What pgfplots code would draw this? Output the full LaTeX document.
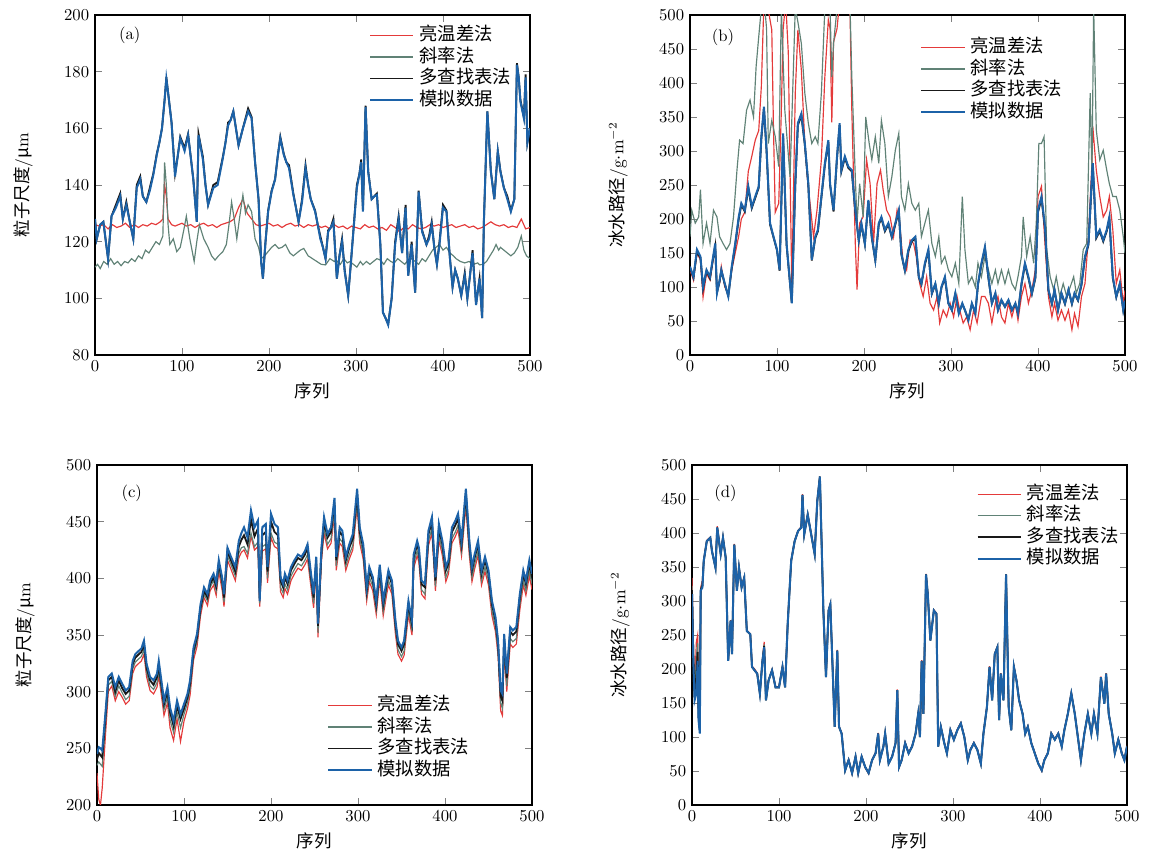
\documentclass[border=0pt]{standalone}
\usepackage{fontspec}
\usepackage{pgfplots}
\pgfplotsset{compat=1.18}
\usepackage{pgfplotstable}
\newfontfamily\cjk{Noto Sans CJK SC}
\definecolor{cR}{RGB}{228,58,58}
\definecolor{cG}{RGB}{96,130,118}
\definecolor{cK}{RGB}{25,25,25}
\definecolor{cB}{RGB}{28,98,168}

\pgfplotsset{legend image code/.code={\draw[#1] (0pt,0pt) -- (26pt,0pt);}}
\pgfplotsset{
  myax/.style={scale only axis, width=261pt, height=204pt,
    xmin=0, xmax=500, xtick={0,100,...,500},
    tick label style={font=\fontsize{9.6}{11}\selectfont},
    label style={font=\fontsize{10.5}{12}\selectfont},
    ylabel style={yshift=12pt},
    xlabel={\cjk 序列},
    major tick length=4pt,
    axis line style={line width=0.7pt},
    legend style={draw=none, fill=none, font=\cjk\fontsize{11}{13}\selectfont,
      cells={anchor=west}, column sep=3pt, row sep=0pt,
      nodes={inner sep=0pt, text height=9.5pt, text depth=3.4pt}},
    legend cell align=left,
  },
  pr/.style={cR, line width=0.7pt},
  pg/.style={cG, line width=0.7pt},
  pk/.style={cK, line width=1.1pt},
  pb/.style={cB, line width=1.2pt},
}

\pgfplotstableread{
x b k
0 128 128
2 121 121
6 126 126
9.6 127 127
15 114 114
19 129 129
24 132 133
29 136 137
32 128 128
36 133 134
40 127 127
44 121 121
48 139 140
52 142 143
55 136 136
59 134 134
63 138 139
67 143.5 144
71 150.6 151
74 155 155
77 160 160
80 170 170
82 177.6 178
85 170 170
88 162 162
92 143 144
95 150 150
98 156.5 157
103 152 153
107 157.6 158
110 150 150
113 142 142
117 127 127
119 157.6 158
124 149 150
127 140 140
130 133 133
136 139 140
141 140 141
147 149.5 150
150 155 155
153 161 162
156 163 163
159 166 166
162 160 160
165 154 154
170 160 160
176 166 167
180 163.5 164
184 148 148
188 135 135
191 113 113
193 107 107
196 120 120
199 130.6 131
203 137.6 138
207 142 142
210 150 150
213 156.5 157
217 150.6 151
220 148 148
223 146 147
228 136.5 137
231 132 132
234 127 127
238 134 135
242 146 147
245 140 140
248 135 135
253 130.6 131
256 126 126
259 121 122
262 118 118
265 114 114
268 123.5 124
271 125 125
274 127 128
278 107 107
281 115 115
284 120 121
287 109.4 110
291 101 101
294 112 112
297 123.5 124
301 139 140
304 144 144
306 148 149
308 130.6 131
311 167.6 168
314 144.7 145
318 135 135
321 136 136
324 136.5 137
328 119 119
331 95 95
334 93 93
337 90.6 91
341 100 100
345 119 120
349 128 129
353 116 116
357 132 133
360 108 108
364 119 120
368 102 102
372 137.6 138
376 123.5 124
381 119 119
384 121 122
387 126 127
390 118 118
393 112 112
396 119 120
400 132 133
404 130.6 131
408 114 114
411 104 104
414 110 110
417 107 107
421 101 101
425 108 109
428 100 100
431 108 108
434 116 117
438 97.6 98
442 107 107
445 93 93
447 127 127
451 166 166
455 144.7 145
459 135 135
463 151.8 152
466 144.7 145
470 139 139
474 135 136
478 130.6 131
482 135 135
485 182.4 183
487 178 178
489 169.4 170
493 163.5 164
495 178 179
497 155 155
500 160 160
}\tabA

\pgfplotstableread{
x b k
0 130 128
4 115 114
8 155 152
12 145 143
15 100 98
19 125 124
23 115 113
26 140 138
29 164 160
31 91 92
34 110 108
36 125 124
40 105 104
44 86 87
48 130 128
52 164 162
56 203 200
59 223 221
63 213 211
67 248 245
71 218 216
75 233 231
79 248 246
82 321 318
85 365 362
88 302 300
92 194 192
96 174 173
100 155 154
103 125 124
107 326 322
111 164 162
114 120 119
117 76 77
121 252 250
124 341 338
128 355 352
132 311 309
136 252 250
140 140 139
144 174 172
147 184 182
151 233 231
155 282 279
159 316 313
161 252 250
165 213 211
169 292 290
172 341 338
174 272 270
178 292 290
182 277 275
186 272 270
190 213 211
194 169 168
197 194 192
201 164 163
205 228 226
209 174 172
213 140 139
217 194 192
220 203 201
224 184 182
228 194 192
232 174 173
236 194 192
240 213 211
243 149 148
247 125 124
251 155 153
255 169 167
259 174 172
263 115 114
266 105 104
270 135 133
274 155 153
278 91 90
282 105 104
286 76 76
289 100 99
293 115 113
297 76 76
301 66 66
305 91 90
309 61 62
313 76 75
316 66 66
320 51 52
324 76 75
328 61 62
331 105 103
335 135 133
339 159 157
343 115 113
347 76 76
351 91 90
354 66 66
358 81 80
362 71 71
366 81 80
370 66 66
374 76 75
377 61 62
381 105 103
385 135 133
389 115 113
393 91 90
397 115 113
400 213 210
404 233 230
408 189 187
412 96 95
416 76 75
419 96 95
423 66 66
427 91 90
431 76 75
435 96 95
439 76 75
442 91 90
446 81 80
450 105 103
454 145 143
458 164 162
462 262 258
463 282 279
467 174 172
471 184 182
475 169 167
479 184 182
482 203 200
486 115 113
490 86 85
494 105 104
498 66 66
500 80 79
}\tabB

\pgfplotstableread{
x b k g r
0 245 240 235 228
2 251 246 238 205
4 250 244 236 200
6 248 242 234 215
9.6 280 276 270 260
13 313 310 306 300
17 316 313 309 305
21 304 300 296 292
25 313 310 305 300
29 307 303 299 295
33 301 298 293 289
37 304 301 296 292
41 327 324 320 316
44 333 330 326 322
48 336 333 329 325
51 338 335 331 327
54 345 342 337 333
57 324.5 321 317 313
61 313 310 305 301
65 310 306 302 298
69 316 313 308 304
71 327 323 318 314
75 304 300 296 291
77 292 289 284 279
81 304 300 295 290
84 286 282 275 268
88 274 270 264 257
92 292 288 282 276
96 280 276 268 256
100 289 285 280 274
104 298 295 290 285
107 310 307 302 297
111 339 336 332 328
115 351 348 344 340
119 377 374 371 367
123 392 389 386 383
127 386 383 380 376
130 398 395 392 389
134 404 401 398 394
137 396 393 389 385
140 416 413 410 406
144 400 397 393 389
146 386 383 379 375
150 427 424 420 416
154 419 416 412 408
159 410 406 402 398
163 433 428 422 418
166 440 434 427 423
169 445 438 428 425
173 436 430 422 418
177 460 452 440 437
181 445 437 428 425
185 451 444 432 428
187 380 382 378 375
190 445 438 428 424
194 448 441 430 426
196 410 406 400 396
200 457 450 440 436
204 448 441 432 428
208 445 438 430 426
211 401 398 392 388
214 395 392 387 383
216 404 401 395 391
219 398 395 390 386
223 410 407 402 398
227 416 413 408 404
231 421 418 413 409
235 419 416 411 407
239 424 421 416 412
242 430 427 421 417
246 404 401 396 392
249 386 383 378 374
252 419 416 411 407
254 360 358 352 348
258 427 424 419 415
261 454 450 444 440
265 439 436 430 426
269 445 441 435 431
273 471 467 460 456
275 419 416 411 407
279 445 441 435 431
282 442 438 432 428
286 419 416 411 407
290 430 427 421 417
294 439 435 429 425
299 479 474 467 463
302 445 441 435 431
306 430 427 421 417
310 392 389 384 380
313 410 407 401 397
317 401 398 393 389
321 380 377 372 368
325 412 409 403 399
329 380 377 371 367
333 398 395 390 386
335 407 404 398 394
339 398 395 390 386
343 363 360 355 351
346 345 342 337 333
350 339 336 331 327
353 345 342 336 332
358 380 377 372 368
362 363 360 354 350
364 421 418 413 409
368 433 430 424 420
370 427 424 418 414
373 398 395 390 386
377 395 392 386 382
381 442 439 433 429
385 454 450 444 440
389 401 398 393 389
393 448 444 438 434
397 433 430 424 420
401 410 407 401 397
404 416 413 408 404
408 445 441 435 431
412 451 447 441 437
415 457 453 447 443
419 433 430 424 420
424 479 475 468 464
428 433 430 424 420
431 410 407 401 397
434 421 418 412 408
438 433 430 424 420
442 407 404 398 394
446 419 416 410 406
450 407 404 398 394
454 380 377 371 367
458 366 363 357 353
461 345 342 336 332
464 301 296 290 283
466 298 292 285 279
468 351 347 340 335
471 316 312 305 300
475 357 353 347 342
478 354 350 344 339
482 357 353 347 342
486 386 383 377 372
490 407 404 398 394
493 398 395 389 385
497 416 413 407 402
500 404 401 395 390
}\tabC

\pgfplotstableread{
x b k g r
0 310 316 322 334
1.5 212 220 228 240
3 154 158 162 170
5 164 190 215 240
6.5 212 225 238 250
7.5 125 130 135 140
9 105 110 115 120
10 315 316 318 320
12 320 323 326 330
13.5 359 359 359 360
17 388 388 388 389
21 393 393 393 394
23 373 373 373 374
27 349 349 349 350
29 408 408 408 410
33 369 369 369 370
35.6 393 393 393 394
38.7 364 364 364 365
41.6 212 212 212 213
44.4 271 271 271 272
46 222 222 222 223
48.6 383 383 383 384
51.6 315 315 315 316
54 349 349 349 350
57 320 320 320 321
60 334 334 334 335
63 256 256 256 257
67 251 251 251 252
69 203 203 203 204
72 198 198 198 200
75 193 193 193 194
78 164 164 164 165
81 212 212 212 214
83 232 234 236 240
85 154 154 154 155
88 183 183 183 184
92 198 198 198 199
96 173 173 173 174
100 173 173 173 174
104 203 203 203 204
107 173 173 173 174
110 266 266 266 267
114 359 359 359 360
118 388 388 388 389
122 403 403 403 404
125.6 408 408 408 409
127 456 456 456 457
129 398 398 398 399
133 427 427 427 428
137 398 398 398 399
141 369 369 369 370
144 447 447 447 448
147 483 483 483 483
151 286 286 286 287
154 188 188 188 189
157 286 286 286 287
159 295 295 295 296
162 188 188 188 189
164 115 115 115 116
167 227 227 227 228
169 115 115 115 116
172 105 105 105 106
176 51 51 51 52
180 66 66 66 67
184 47 47 47 46
188 71 71 71 72
191 47 47 47 46
195 71 71 71 72
199 56 56 56 55
203 47 47 47 46
207 66 66 66 67
211 76 76 76 77
214 105 105 105 106
216 66 66 66 67
220 86 86 86 87
222 105 105 105 106
226 61 61 61 62
230 71 71 71 72
234 91 91 91 92
236 169 169 169 170
238 56 56 56 55
241 66 66 66 67
245 91 91 91 92
249 76 76 76 77
253 86 86 86 87
257 105 105 105 106
260 134 134 134 135
262 100 100 100 101
264 212 212 212 213
266 134 134 134 135
269 339 339 339 340
271 310 310 310 311
274 242 242 242 243
278 286 286 286 287
281 281 281 281 282
283 86 86 86 87
286 115 115 115 116
290 91 91 91 92
293 76 76 76 77
297 110 110 110 111
301 96 96 96 97
305 110 110 110 111
309 120 120 120 121
313 100 100 100 101
317 66 66 66 67
320 81 81 81 82
324 91 91 91 92
328 81 81 81 82
332 61 61 61 62
335 105 105 105 106
339 144 144 144 145
342 203 203 203 204
345 154 154 154 155
348 222 222 222 223
351 232 232 232 233
353 125 125 125 126
355 193 193 193 194
358 154 154 154 155
361 339 339 339 339
364 144 144 144 145
367 110 110 110 111
370 203 203 203 204
373 183 183 183 184
376 154 154 154 155
380 134 134 134 135
383 105 105 105 106
386 115 115 115 116
390 91 91 91 92
394 76 76 76 77
398 61 61 61 62
402 51 51 51 50
405 66 66 66 67
409 76 76 76 77
413 105 105 105 106
417 96 96 96 97
421 105 105 105 106
425 86 86 86 87
428 110 110 110 111
432 134 134 134 135
436 164 164 164 165
440 134 134 134 135
443 105 105 105 106
447 66 66 66 67
451 105 105 105 106
455 134 134 134 135
459 105 105 105 106
462 134 134 134 135
466 105 105 105 106
470 188 188 188 189
474 149 149 149 150
476 193 193 193 194
479 134 134 134 135
483 105 105 105 106
486 76 76 76 77
490 96 96 96 97
494 76 76 76 77
497 66 66 66 67
500 86 86 86 87
}\tabD

\begin{document}
\begin{tikzpicture}
\useasboundingbox (0,0) rectangle (691.8pt,511.2pt);

% ---------------- (a)
\begin{axis}[myax, at={(57pt,298.2pt)}, anchor=south west,
  ymin=80, ymax=200, ytick={80,100,...,200},
  ylabel={{\cjk 粒子尺度}/{\cjk μ}m},
  legend style={at={(rel axis cs:0.618,0.982)}, anchor=north west}]
\addplot[pr] coordinates {
(0,126) (5,125.5) (10,126) (15,124.5) (20,126) (25,125) (30,125.5) (35,126.5) (40,125) (45,126)
(50,125) (55,126) (60,125.5) (65,126.5) (70,126) (75,127) (78,128) (80,140) (82,136) (84,128)
(88,126) (92,125.5) (96,126) (100,126.5) (105,125.5) (110,126) (115,125) (120,126) (125,126.5) (130,125.5)
(135,126) (140,125) (145,126) (150,126.5) (155,127) (160,128) (165,132) (170,135) (175,130) (180,128)
(185,126) (190,125.5) (195,126) (200,126.5) (205,125.5) (210,126) (215,125) (220,126) (225,126.5) (230,125.5)
(235,126) (240,125) (245,126) (250,125.5) (255,126) (260,125) (265,125.5) (270,124.5) (275,126) (280,125)
(285,125.5) (290,124.5) (295,125.5) (300,125) (305,124.5) (310,126) (315,125) (320,125.5) (325,124.5) (330,125)
(335,124) (340,126) (345,125) (350,123.5) (355,125) (360,124.5) (365,126) (370,125) (375,124.5) (380,125)
(385,126) (390,125.5) (395,126) (400,125) (405,125.5) (410,126) (415,125) (420,125.5) (425,126) (430,125)
(435,125.5) (440,124.5) (445,125) (450,126) (455,127) (460,126) (465,125.5) (470,126) (475,125) (480,125.5)
(485,125) (490,128) (495,124.5) (500,125)};
\addplot[pg] coordinates {
(0,111) (3,112) (6,110.5) (10,113) (14,112) (18,114) (22,112) (26,113) (30,111.5) (34,113)
(38,112.5) (42,114) (46,113) (50,115) (54,114) (58,117) (62,116) (66,118) (70,120) (74,119)
(78,122) (80,148) (82,140) (84,126) (86,119) (90,121) (94,116.5) (98,118) (102,124) (105,129)
(109,121) (114,113) (117,120) (120,126) (125,121) (130,118) (134,115) (138,113.5) (142,115) (147,116.5)
(151,119) (154,126) (157,134) (160,128) (163,121) (166,128) (170,136.5) (173,130) (176,133) (180,130.6)
(184,121) (188,118) (191,114) (195,115) (199,116.5) (203,118) (207,119) (211,117.6) (215,118) (219,119)
(224,116) (228,115) (232,116) (236,117) (240,117.6) (245,115) (250,114) (255,113) (260,112) (265,111.8)
(270,114) (275,113) (277,113.5) (282,112) (286,114) (290,112.5) (293,113) (297,112) (301,111) (305,113)
(308,111.8) (312,113) (316,112) (320,113) (324,114) (328,113.5) (332,112) (336,114) (340,113) (344,112.5)
(348,114) (352,113) (356,112) (360,113.5) (364,114) (368,113) (372,112) (376,114) (380,113) (384,115)
(388,117) (392,118) (396,119) (400,117) (404,118) (408,116) (412,115) (415,114) (420,113) (425,112.5)
(430,113) (435,112) (440,112.5) (442,111.8) (446,112) (450,113) (454,115) (458,117) (461,119) (464,117)
(466,118) (470,117) (474,116) (478,115) (482,116) (486,118) (490,122) (493,117) (496,115) (500,114)};
\addplot[pk] table[x=x, y=k] {\tabA};
\addplot[pb] table[x=x, y=b] {\tabA};
\legend{亮温差法, 斜率法, 多查找表法, 模拟数据}
\node[font=\fontsize{10}{12}\selectfont] at (rel axis cs:0.08,0.94) {(a)};
\end{axis}

% ---------------- (b)
\begin{axis}[myax, at={(414pt,298.2pt)}, anchor=south west,
  ymin=0, ymax=500, ytick={0,50,...,500},
  ylabel={{\cjk 冰水路径}/g$\cdot$m$^{-2}$},
  legend style={at={(rel axis cs:0.517,0.947)}, anchor=north west}]
\addplot[pr] coordinates {
(0,125) (4,110) (8,150) (12,140) (15,85) (19,120) (23,110) (26,135) (29,160) (31,95)
(34,105) (36,130) (40,100) (44,90) (48,125) (52,150) (56,175) (59,200) (63,210) (67,270)
(71,292) (75,316) (79,330) (82,395) (85,520) (88,520) (91,500) (94,478) (96,330) (98,210)
(102,223) (105,360) (107,478) (110,520) (113,444) (117,100) (121,385) (124,478) (128,419) (132,311)
(135,260) (138,223) (142,174) (146,213) (151,287) (155,409) (159,493) (161,480) (163,342) (165,460)
(169,480) (172,520) (178,520) (184,500) (186,360) (190,164) (192,96) (195,194) (199,203) (203,287)
(207,252) (211,164) (215,252) (219,272) (222,243) (226,213) (230,203) (234,174) (238,213) (241,194)
(245,135) (249,125) (253,169) (257,164) (260,145) (264,105) (268,86) (272,115) (276,76) (280,66)
(284,86) (287,47) (291,66) (295,56) (299,76) (303,56) (307,86) (310,66) (314,47) (318,56)
(322,37) (326,66) (330,47) (335,86) (339,86) (343,76) (347,47) (351,76) (354,86) (358,56)
(362,47) (366,76) (370,56) (374,76) (377,51) (381,86) (385,105) (389,76) (393,96) (397,125)
(400,233) (404,248) (408,164) (412,86) (416,56) (419,76) (423,51) (427,66) (431,51) (435,66)
(439,37) (442,61) (446,42) (450,86) (454,105) (458,174) (462,282) (463,336) (467,272) (471,233)
(475,203) (479,213) (482,233) (486,184) (490,105) (494,125) (498,76) (500,95)};
\addplot[pg] coordinates {
(0,174) (2,213) (6,194) (10,203) (12,243) (15,164) (19,194) (23,164) (27,213) (31,203)
(34,174) (38,164) (42,155) (46,164) (50,203) (54,272) (57,316) (61,311) (65,360) (69,375)
(73,350) (76,424) (79,468) (82,510) (86,510) (88,480) (90,311) (94,345) (98,321) (102,277)
(105,510) (109,360) (115,262) (121,510) (124,490) (128,458) (132,385) (136,341) (140,311) (144,321)
(147,311) (151,385) (155,510) (161,510) (163,409) (165,458) (169,510) (184,510) (186,409) (190,262)
(192,194) (195,252) (199,203) (202,350) (206,311) (209,287) (213,321) (217,282) (220,345) (224,311)
(228,233) (232,262) (236,301) (240,326) (243,233) (247,213) (251,252) (255,223) (259,213) (263,223)
(266,174) (270,194) (274,213) (278,164) (282,145) (286,174) (289,135) (293,145) (297,125) (301,115)
(305,135) (309,105) (313,233) (316,155) (320,105) (324,115) (328,100) (331,135) (335,115) (339,145)
(343,125) (347,105) (351,125) (354,105) (358,125) (362,105) (366,125) (370,105) (374,96) (377,115)
(381,145) (383,203) (387,145) (391,174) (395,135) (398,194) (401,311) (404,311) (407,321) (410,155)
(414,115) (418,96) (421,115) (425,86) (429,105) (433,86) (437,100) (441,115) (444,91) (448,105)
(452,155) (456,164) (460,385) (462,262) (464,510) (467,331) (471,287) (475,301) (479,272) (482,252)
(486,233) (490,233) (494,213) (498,174) (500,150)};
\addplot[pk] table[x=x, y=k] {\tabB};
\addplot[pb] table[x=x, y=b] {\tabB};
\legend{亮温差法, 斜率法, 多查找表法, 模拟数据}
\node[font=\fontsize{10}{12}\selectfont] at (rel axis cs:0.076,0.935) {(b)};
\end{axis}

% ---------------- (c)
\begin{axis}[myax, at={(58.2pt,28.2pt)}, anchor=south west,
  ymin=200, ymax=500, ytick={200,250,...,500},
  ylabel={{\cjk 粒子尺度}/{\cjk μ}m},
  legend style={at={(rel axis cs:0.517,0.335)}, anchor=north west}]
\addplot[pr] table[x=x, y=r] {\tabC};
\addplot[pg] table[x=x, y=g] {\tabC};
\addplot[pk] table[x=x, y=k] {\tabC};
\addplot[pb] table[x=x, y=b] {\tabC};
\legend{亮温差法, 斜率法, 多查找表法, 模拟数据}
\node[font=\fontsize{10}{12}\selectfont] at (rel axis cs:0.08,0.918) {(c)};
\end{axis}

% ---------------- (d)
\begin{axis}[myax, at={(415.2pt,28.2pt)}, anchor=south west,
  ymin=0, ymax=500, ytick={0,50,...,500},
  ylabel={{\cjk 冰水路径}/g$\cdot$m$^{-2}$},
  legend style={at={(rel axis cs:0.642,0.956)}, anchor=north west}]
\addplot[pr] table[x=x, y=r] {\tabD};
\addplot[pg] table[x=x, y=g] {\tabD};
\addplot[pk] table[x=x, y=k] {\tabD};
\addplot[pb] table[x=x, y=b] {\tabD};
\legend{亮温差法, 斜率法, 多查找表法, 模拟数据}
\node[font=\fontsize{10}{12}\selectfont] at (rel axis cs:0.077,0.918) {(d)};
\end{axis}
\end{tikzpicture}
\end{document}
